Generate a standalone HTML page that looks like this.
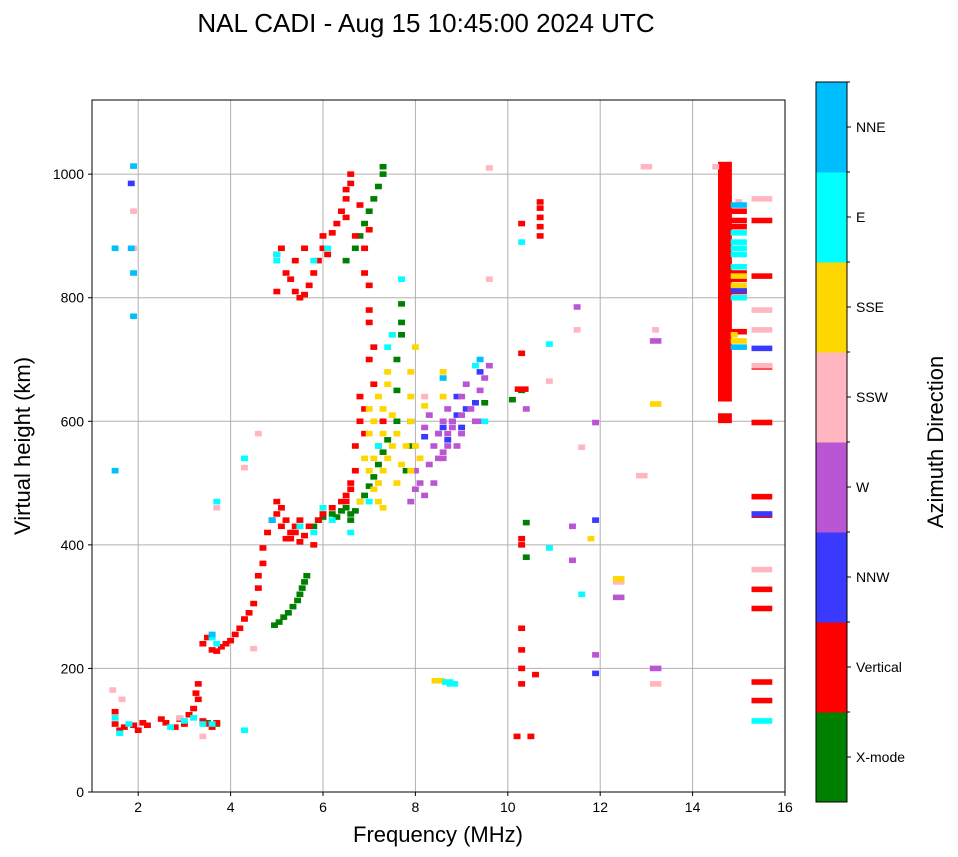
<!DOCTYPE html>
<html><head><meta charset="utf-8">
<style>
body{margin:0;background:#fff;}
svg{display:block;font-family:"Liberation Sans","DejaVu Sans",sans-serif;}
</style></head>
<body>
<svg id="chart" width="958" height="857" viewBox="0 0 958 857">
<text x="426" y="32" font-size="26" text-anchor="middle">NAL CADI - Aug 15 10:45:00 2024 UTC</text>
<g id="grid"></g>
<g id="marks"></g>
<rect x="92" y="100" width="693" height="692" fill="none" stroke="#000" stroke-width="1"/>
<g id="axes"></g>
<text x="438" y="842" font-size="22" text-anchor="middle">Frequency (MHz)</text>
<text transform="translate(30,446) rotate(-90)" font-size="22" text-anchor="middle">Virtual height (km)</text>
<g id="cbar"></g>
<text transform="translate(943,442) rotate(-90)" font-size="22" text-anchor="middle">Azimuth Direction</text>
</svg>
<script>
const categories=['X-mode','Vertical','NNW','W','SSW','SSE','E','NNE'];
const catColors=['#008000','#ff0000','#3a3aff','#ba55d3','#ffb6c1','#ffd700','#00ffff','#00bfff'];
const xTicks=[2,4,6,8,10,12,14,16];
const yTicks=[0,200,400,600,800,1000];
const xmode=[[4.95,270],[5.05,275],[5.15,283],[5.25,290],[5.35,300],[5.45,310],[5.5,320],[5.55,330],[5.6,340],[5.65,350],[5.8,430],[5.9,440],[6.0,445],[6.2,450],[6.4,455],[6.5,460],[6.6,450],[6.7,455],[6.8,470],[6.9,480],[7.0,495],[7.1,510],[7.2,530],[7.3,550],[7.4,570],[7.6,600],[7.6,650],[7.6,700],[7.7,740],[7.7,760],[7.7,790],[6.5,860],[6.7,880],[6.8,900],[6.9,920],[7.0,940],[7.1,960],[7.2,980],[7.3,1000],[7.3,1012],[10.3,650],[10.1,635],[9.5,630],[10.4,436],[10.4,380],[7.9,600],[7.9,560],[7.8,520],[3.5,112],[3.7,110],[6.3,445],[6.6,440]];
const vertical=[[1.5,110],[1.5,130],[1.6,100],[1.7,105],[1.9,108],[2.0,100],[2.1,112],[2.2,108],[2.5,118],[2.6,112],[2.8,105],[2.9,118],[3.0,110],[3.1,125],[3.2,135],[3.25,160],[3.3,175],[3.3,150],[3.4,115],[3.5,110],[3.6,105],[3.7,112],
[3.4,240],[3.5,250],[3.6,230],[3.7,228],[3.8,235],[3.9,240],[4.0,245],[4.1,255],[4.2,265],[4.3,280],[4.4,290],[4.5,305],[4.6,330],[4.6,350],[4.7,370],[4.7,395],[4.8,420],[4.9,440],[5.0,450],[5.0,470],[5.1,460],[5.1,430],[5.2,440],[5.3,420],[5.3,410],[5.4,430],[5.5,405],[5.5,440],[5.6,415],[5.7,430],[5.8,400],[5.9,440],[6.0,450],[6.2,460],[6.4,470],[6.5,480],[6.6,500],[6.7,520],[6.7,560],[6.8,600],[6.8,640],[6.9,580],[6.9,620],[7.0,700],[7.0,760],[7.0,780],[7.1,660],[7.1,720],[7.2,560],[7.3,600],[6.5,470],[6.6,490],[5.2,410],[5.4,420],
[5.0,810],[5.0,870],[5.1,880],[5.2,840],[5.3,830],[5.4,810],[5.4,860],[5.5,800],[5.6,805],[5.6,880],[5.7,820],[5.8,840],[5.9,860],[6.0,880],[6.0,900],[6.1,870],[6.2,905],[6.3,920],[6.4,940],[6.5,960],[6.5,975],[6.6,1000],[6.6,985],[6.5,930],[6.7,900],[6.9,880],[7.0,910],[6.8,950],[6.9,840],[7.0,820],
[10.3,920],[10.3,710],[10.3,400],[10.3,410],[10.3,265],[10.3,230],[10.3,200],[10.3,175],[10.6,190],[10.2,90],[10.5,90],[10.7,900],[10.7,915],[10.7,930],[10.7,945],[10.7,955],[10.3,652,0.3],
[14.7,605,0.3],[14.7,640,0.3],[14.7,655,0.3],[14.7,670,0.3],[14.7,685,0.3],[14.7,700,0.3],[14.7,715,0.3],[14.7,730,0.3],[14.7,745,0.3],[14.7,760,0.3],[14.7,775,0.3],[14.7,790,0.3],[14.7,805,0.3],[14.7,820,0.3],[14.7,835,0.3],[14.7,850,0.3],[14.7,865,0.3],[14.7,880,0.3],[14.7,895,0.3],[14.7,910,0.3],[14.7,925,0.3],[14.7,940,0.3],[14.7,955,0.3],[14.7,970,0.3],[14.7,985,0.3],[14.7,1000,0.3],[14.7,1012,0.3],
[15.0,940,0.35],[15.0,925,0.35],[15.0,915,0.35],[15.0,840,0.35],[15.0,830,0.35],[15.0,745,0.35],[15.0,810,0.35],
[15.5,925,0.45],[15.5,835,0.45],[15.5,688,0.45],[15.5,598,0.45],[15.5,478,0.45],[15.5,448,0.45],[15.5,328,0.45],[15.5,297,0.45],[15.5,178,0.45],[15.5,148,0.45]];
const nnw=[[8.5,580],[8.6,590],[8.7,570],[8.8,600],[8.9,610],[9.0,590],[9.1,620],[9.3,630],[9.4,680],[8.9,640],[11.9,440],[11.9,192],[15.5,718,0.45],[15.5,450,0.45],[15.0,812,0.35],[1.85,985],[8.2,575]];
const west=[[8.0,520],[8.1,500],[8.2,480],[8.3,530],[8.4,560],[8.5,580],[8.6,600],[8.7,620],[8.8,590],[8.9,560],[9.0,640],[9.1,660],[9.2,620],[9.3,600],[9.4,650],[9.5,670],[9.6,690],[8.6,540],[8.7,560],[8.2,590],[8.3,610],[8.4,500],[7.9,470],[8.0,490],[9.0,580],[8.8,600],[9.4,600],[10.4,620],[11.4,430],[11.4,375],[11.5,785],[12.4,315,0.25],[13.2,200,0.25],[13.2,730,0.25],[11.9,598],[11.9,222],[9.0,610],[8.5,540],[8.6,550],[8.7,580]];
const ssw=[[1.45,165],[1.65,150],[3.7,460],[4.5,232],[4.3,525],[7.5,740],[8.2,640],[9.6,1010],[9.6,830],[11.5,748],[11.6,558],[12.9,512,0.25],[13.0,1012,0.25],[13.2,748],[13.2,175,0.25],[14.5,1012],[15.5,960,0.45],[15.5,780,0.45],[15.5,748,0.45],[15.5,690,0.45],[15.5,360,0.45],[15.0,955],[1.9,880],[1.9,940],[10.9,665],[12.4,340,0.25],[4.6,580],[2.9,120],[3.4,90]];
const sse=[[7.0,520],[7.0,580],[7.1,540],[7.1,600],[7.2,500],[7.2,560],[7.2,640],[7.3,460],[7.3,520],[7.3,580],[7.3,620],[7.4,680],[7.4,540],[7.5,610],[7.5,560],[7.6,500],[7.6,580],[7.7,530],[7.9,640],[7.9,680],[7.9,600],[8.0,720],[8.0,560],[8.1,540],[8.2,625],[8.6,640],[8.6,680],[8.5,180,0.3],[11.8,410],[12.4,345,0.25],[13.2,628,0.25],[15.0,820,0.35],[15.0,835,0.35],[15.0,730,0.35],[14.9,740],[7.1,490],[7.2,470],[6.8,470],[6.9,540],[7.0,620],[7.4,660],[7.8,560],[7.9,520]];
const east=[[1.5,120],[1.6,95],[1.8,110],[2.7,105],[3.0,115],[3.2,120],[3.4,110],[3.6,110],[3.6,250],[3.7,240],[3.7,470],[4.3,540],[4.3,100],[5.0,870],[5.0,860],[5.5,430],[5.8,420],[6.0,460],[6.2,440],[6.6,420],[7.0,470],[7.2,560],[7.4,720],[7.5,740],[7.7,830],[8.7,178,0.25],[8.8,175,0.25],[9.3,690],[9.5,600],[10.3,890],[10.9,395],[11.6,320],[15.0,870,0.35],[15.0,890,0.35],[15.0,905,0.35],[15.0,850,0.35],[15.0,800,0.35],[15.0,880,0.35],[15.5,115,0.45],[10.9,725],[6.1,880],[5.8,860]];
const nne=[[1.9,1013],[1.85,880],[1.5,880],[1.5,520],[1.9,770],[1.9,840],[8.6,670],[9.4,700],[15.0,720,0.35],[15.0,950,0.35],[3.6,255],[4.9,440]];
const seriesList=[xmode,vertical,nnw,west,ssw,sse,east,nne];

const NS='http://www.w3.org/2000/svg';
const X0=92,X1=785,Y0=792,Y1=100,FMIN=1,FMAX=16,HMIN=0,HMAX=1120;
function xs(f){return X0+(f-FMIN)/(FMAX-FMIN)*(X1-X0);}
function ys(h){return Y0-(h-HMIN)/(HMAX-HMIN)*(Y0-Y1);}
function mk(tag,attrs,parent){const e=document.createElementNS(NS,tag);for(const k in attrs)e.setAttribute(k,attrs[k]);parent.appendChild(e);return e;}
const grid=document.getElementById('grid'),axes=document.getElementById('axes'),marks=document.getElementById('marks'),cbar=document.getElementById('cbar');
xTicks.forEach(t=>{const x=xs(t);
 const g=mk('line',{x1:x,x2:x,y1:Y1,y2:Y0,stroke:'#b0b0b0','stroke-width':1},grid);
 
 
 mk('line',{x1:x,x2:x,y1:Y0,y2:Y0+4,stroke:'#000'},axes);
 const l=mk('text',{x:x,y:Y0+20,'font-size':14,'text-anchor':'middle'},axes);l.textContent=t;
 
 });
yTicks.forEach(t=>{const y=ys(t);
 const g=mk('line',{x1:X0,x2:X1,y1:y,y2:y,stroke:'#b0b0b0','stroke-width':1},grid);
 
 
 mk('line',{x1:X0-4,x2:X0,y1:y,y2:y,stroke:'#000'},axes);
 const l=mk('text',{x:X0-8,y:y+5,'font-size':14,'text-anchor':'end'},axes);l.textContent=t;
 
 });
seriesList.forEach((s,ci)=>{s.forEach(p=>{const w=p[2]||0.15;
 const tall=(p[2]===0.3&&p[0]>14);
 const hk=tall?16:9;
 const r=mk('rect',{x:xs(p[0]-w/2),y:ys(p[1]+hk/2),width:xs(w)-xs(0),height:ys(0)-ys(hk),fill:catColors[ci]},marks);
 
 });});
const CX=816,CW=31,CT=82,CB=802,seg=(CB-CT)/categories.length;
categories.forEach((c,i)=>{const y=CB-(i+1)*seg;
 const r=mk('rect',{x:CX,y:y,width:CW,height:seg+0.5,fill:catColors[i]},cbar);
 
 
 mk('line',{x1:CX+CW,x2:CX+CW+4,y1:y+seg/2,y2:y+seg/2,stroke:'#000'},cbar);
 mk('line',{x1:CX+CW,x2:CX+CW+3,y1:y,y2:y,stroke:'#000'},cbar);
 const l=mk('text',{x:CX+CW+9,y:y+seg/2+5,'font-size':14},cbar);l.textContent=c;
 
 });
mk('rect',{x:CX,y:CT,width:CW,height:CB-CT,fill:'none',stroke:'#000'},cbar);
</script>
</body></html>
